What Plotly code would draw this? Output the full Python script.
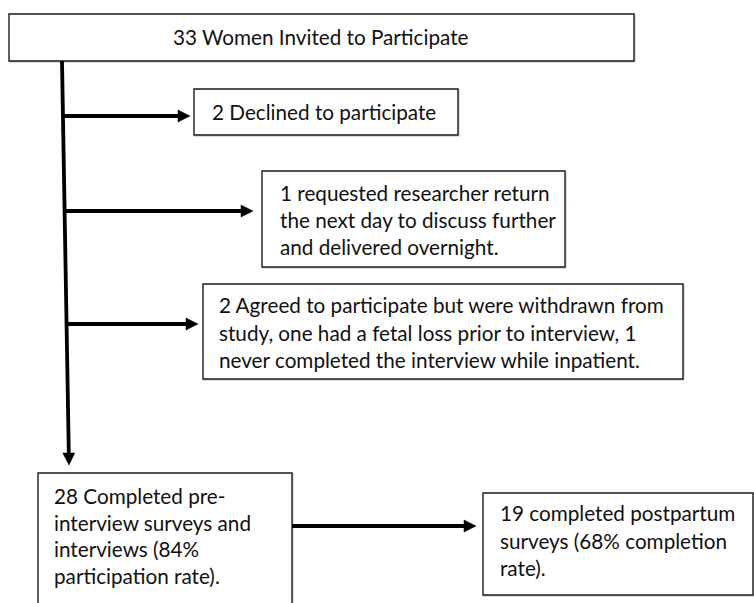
import math
import plotly.graph_objects as go

# ---- content (text of each flowchart node, line by line) ----
node_top = ["33 Women Invited to Participate"]
node_declined = ["2 Declined to participate"]
node_return = ["1 requested researcher return",
               "the next day to discuss further",
               "and delivered overnight."]
node_withdrawn = ["2 Agreed to participate but were withdrawn from",
                  "study, one had a fetal loss prior to interview, 1",
                  "never completed the interview while inpatient."]
node_completed = ["28 Completed pre-",
                  "interview surveys and",
                  "interviews (84%",
                  "participation rate)."]
node_postpartum = ["19 completed postpartum",
                   "surveys (68% completion",
                   "rate)."]

# ---- layout geometry (pixels, y down) ----
W, H = 754, 603
FONT = "Lato"
FS = 20.7
BOX_COLOR = "#1a1a1a"

boxes = [
    # (x0, y0, x1, y1, lines, text_x, first_line_y, line_step, centered)
    (9, 14, 634, 61, node_top, 321, 37, 27, True),
    (194, 89, 458, 135, node_declined, 210, 112, 27, False),
    (262, 171, 565, 267, node_return, 278, 193, 27, False),
    (203, 284, 683, 379, node_withdrawn, 217, 305, 27.5, False),
    (38, 473, 292, 640, node_completed, 52, 496, 26.7, False),
    (483, 493, 753, 595, node_postpartum, 498, 513, 27.5, False),
]

fig = go.Figure()
shapes = []
annotations = []

for (x0, y0, x1, y1, lines, tx, ty, step, centered) in boxes:
    shapes.append(dict(type="rect", xref="x", yref="y", x0=x0 + 1, y0=y0 + 1, x1=x1 + 1, y1=y1 + 1,
                       line=dict(color="rgba(0,0,0,0.18)", width=1.5), fillcolor="rgba(0,0,0,0)", layer="below"))
    shapes.append(dict(type="rect", xref="x", yref="y", x0=x0, y0=y0, x1=x1, y1=y1,
                       line=dict(color=BOX_COLOR, width=1.4), fillcolor="white"))
    for i, t in enumerate(lines):
        annotations.append(dict(x=tx, y=ty + i * step, xref="x", yref="y", text=t,
                                showarrow=False, xanchor="center" if centered else "left",
                                yanchor="middle", font=dict(family=FONT, size=FS, color="#111111")))

LW = 3.8


def arrow(x0, y0, x1, y1, head_len=12, head_half=6):
    dx, dy = x1 - x0, y1 - y0
    L = math.hypot(dx, dy)
    ux, uy = dx / L, dy / L
    bx, by = x1 - ux * head_len, y1 - uy * head_len
    shapes.append(dict(type="line", xref="x", yref="y", x0=x0, y0=y0, x1=bx + ux, y1=by + uy,
                       line=dict(color="black", width=LW)))
    px, py = -uy, ux
    path = (f"M {x1} {y1} L {bx + px * head_half} {by + py * head_half} "
            f"L {bx - px * head_half} {by - py * head_half} Z")
    shapes.append(dict(type="path", xref="x", yref="y", path=path,
                       fillcolor="black", line=dict(color="black", width=0.5)))


# main vertical arrow
arrow(62, 61, 69, 465)
# side arrows
arrow(63, 116, 190, 116)
arrow(65, 211, 253, 211)
arrow(67, 324, 198, 324)
arrow(292, 526, 476, 526)

fig.update_layout(
    width=W, height=H,
    margin=dict(l=0, r=0, t=0, b=0),
    paper_bgcolor="white", plot_bgcolor="white",
    xaxis=dict(range=[0, W], visible=False, fixedrange=True),
    yaxis=dict(range=[H, 0], visible=False, fixedrange=True),
    shapes=shapes, annotations=annotations, showlegend=False,
)

fig.write_html("out.html", config={"displayModeBar": False},
               post_script="document.body.style.margin='0';document.body.style.padding='0';"
                           "document.body.style.overflow='hidden';")
